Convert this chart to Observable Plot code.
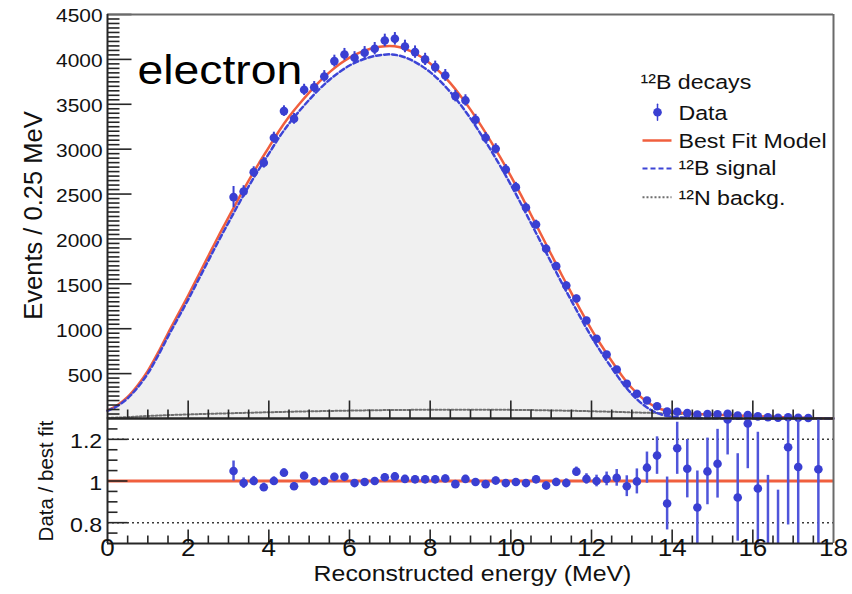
<!DOCTYPE html>
<html><head><meta charset="utf-8">
<script src="https://cdn.jsdelivr.net/npm/d3@7"></script>
<script src="https://cdn.jsdelivr.net/npm/@observablehq/plot@0.6"></script>
<style>
html,body{margin:0;padding:0;background:#fff;}
#chart{position:relative;width:852px;height:594px;overflow:hidden;font-family:"Liberation Sans",Arial,sans-serif;}
#chart svg{position:absolute;left:0;}
</style></head><body><div id="chart"></div>
<script>
// ---- data ----
const binCenters = [3.125,3.375,3.625,3.875,4.125,4.375,4.625,4.875,5.125,5.375,5.625,5.875,6.125,6.375,6.625,6.875,7.125,7.375,7.625,7.875,8.125,8.375,8.625,8.875,9.125,9.375,9.625,9.875,10.125,10.375,10.625,10.875,11.125,11.375,11.625,11.875,12.125,12.375,12.625,12.875,13.125,13.375,13.625,13.875,14.125,14.375,14.625,14.875,15.125,15.375,15.625,15.875,16.125,16.375,16.625,16.875,17.125,17.375,17.625];
const dataEvents = [2466,2529,2744,2848,3127,3424,3338,3661,3690,3810,3981,4055,4018,4074,4119,4211,4229,4144,4081,4000,3914,3821,3591,3543,3327,3127,3004,2774,2577,2350,2161,1890,1697,1482,1337,1092,888,713,546,387,275,200,137,78,76,60,45,50,48,52,32,38,24,14,9,14,8,5,null];
const dataErrors = [118,64,60,59,62,59,60,62,63,65,66,67,68,69,69,70,70,70,69,68,67,66,64,63,61,59,57,55,53,50,48,45,42,40,37,34,30,27,24,21,17,14,12,10,9,8,7,7,7,7,6,6,5,4,3,4,3,2,null];
const ratioValues = [1.048,0.99,1.0,0.97,1.0,1.04,0.975,1.025,0.998,1.0,1.02,1.02,0.99,0.995,1.0,1.018,1.022,1.01,1.008,1.008,1.008,1.012,0.985,1.01,0.995,0.985,1.002,0.99,0.995,0.99,1.008,0.978,0.995,0.99,1.045,1.01,1.0,1.01,1.015,0.975,0.998,1.064,1.122,0.892,1.157,1.059,0.873,1.046,1.083,1.295,0.921,1.276,0.964,0.65,0.6,1.162,1.067,null,1.056];
const ratioErrors = [0.048,0.025,0.022,0.02,0.02,0.018,0.018,0.017,0.017,0.017,0.017,0.017,0.017,0.017,0.017,0.017,0.017,0.017,0.017,0.017,0.017,0.017,0.017,0.017,0.017,0.017,0.017,0.017,0.017,0.017,0.017,0.018,0.018,0.02,0.022,0.025,0.028,0.033,0.04,0.05,0.06,0.075,0.09,0.127,0.125,0.14,0.175,0.16,0.165,0.17,0.21,0.217,0.27,0.377,0.356,0.373,0.45,null,0.6];

const curveEnergy = [0,0.25,0.5,0.75,1,1.25,1.5,1.75,2,2.25,2.5,2.75,3,3.25,3.5,3.75,4,4.25,4.5,4.75,5,5.25,5.5,5.75,6,6.25,6.5,6.75,7,7.25,7.5,7.75,8,8.25,8.5,8.75,9,9.25,9.5,9.75,10,10.25,10.5,10.75,11,11.25,11.5,11.75,12,12.25,12.5,12.75,13,13.25,13.5,13.75,14,14.25,14.5,14.75,15,15.25,15.5,15.75,16,16.25,16.5,16.75,17,17.25,17.5,17.75,18];
const bestFit = [90,150,240,370,530,730,950,1160,1370,1590,1810,2030,2240,2450,2650,2840,3020,3200,3360,3500,3630,3750,3855,3945,4020,4075,4115,4140,4150,4135,4095,4035,3955,3855,3735,3595,3440,3270,3090,2900,2700,2490,2270,2050,1830,1610,1400,1190,990,810,640,480,340,230,150,100,75,62,53,48,44,40,36,31,27,23,19,15,11,7,4,2,0];
const signal12B = [85,140,225,348,502,697,912,1118,1325,1541,1758,1975,2182,2389,2586,2773,2950,3128,3285,3422,3550,3668,3771,3859,3932,3985,4024,4047,4056,4040,3999,3938,3858,3757,3637,3497,3342,3172,2993,2803,2604,2395,2176,1958,1740,1522,1314,1106,909,732,565,408,272,165,88,42,20,11,5,3,2,2,1,0,0,0,0,0,0,0,0,0,0];
const backg12N = [5,10,15,22,28,33,38,42,45,49,52,55,58,61,64,67,70,72,75,78,80,82,84,86,88,90,91,93,94,95,96,97,97,98,98,98,98,98,97,97,96,95,94,92,90,88,86,84,81,78,75,72,68,65,62,58,55,51,48,45,42,38,35,31,27,23,19,15,11,7,4,2,0];

const xDomain = [0, 18];
const yDomain = [0, 4500];
const ratioDomain = [0.7, 1.3];
const xTickLabels = [0,2,4,6,8,10,12,14,16,18];
const xMinorTicks = [0.5,1,1.5,2.5,3,3.5,4.5,5,5.5,6.5,7,7.5,8.5,9,9.5,10.5,11,11.5,12.5,13,13.5,14.5,15,15.5,16.5,17,17.5];
const xMajorTicks = [2,4,6,8,10,12,14,16];
const yTickLabels = [500,1000,1500,2000,2500,3000,3500,4000,4500];
const ratioTickLabels = [0.8, 1, 1.2];
const ratioMinorTicks = [0.75,0.85,0.9,0.95,1.05,1.1,1.15,1.25];
const ratioGridLines = [0.8, 1.2];
const ratioReference = [1];
const panelLabel = "electron";
const legendTitle = "¹²B decays";
const legendLabels = ["Data", "Best Fit Model", "¹²B signal", "¹²N backg."];
const xTitle = "Reconstructed energy (MeV)";
const yTitle = "Events / 0.25 MeV";
const ratioTitle = "Data / best fit";

// ---- styling ----
const C = {data:"#3a3fd2", bar:"#4f55da", fit:"#f05f3e", sig:"#3d45d6", bkg:"#6e6e6e", fill:"#f0f0f0", axis:"#262626", frame:"#6a6a6a", grid:"#3a3a3a", text:"#111"};
const FONT = "Liberation Sans, Arial, sans-serif";
const W = 852;
const lineShape = {draw(ctx, l){ ctx.moveTo(0,0); ctx.lineTo(0,-l); }};

const points = binCenters.map((e,i)=>({e, v:dataEvents[i], err:dataErrors[i], r:ratioValues[i], rerr:ratioErrors[i]}));
const curve = curveEnergy.map((e,i)=>({e, fit:bestFit[i], sig:signal12B[i], bkg:backg12N[i]}));
const upPts = points.filter(d=>d.v!=null);
const rPts = points.filter(d=>d.r!=null);

const tick = (data, opts) => Plot.vector(data, {anchor:"start", shape:lineShape, stroke:C.axis, strokeWidth:1.6, strokeLinecap:"butt", ...opts});
const topLeft = {x: () => xDomain[0], y: () => yDomain[1]};
const legendVec = {frameAnchor:"top-left"};
const legendText = (label, dy) => Plot.text([label], {text:d=>d, ...topLeft, dx:571, dy, textAnchor:"start", fontSize:20.5, fill:C.text});

const upper = Plot.plot({
  width: W, height: 419,
  marginLeft: 107, marginRight: 19, marginTop: 14, marginBottom: 1,
  x: {domain: xDomain, axis: null},
  y: {domain: yDomain, axis: null},
  style: {background:"transparent", overflow:"visible", fontFamily: FONT},
  marks: [
    Plot.areaY(curve, {x:"e", y:"sig", fill:C.fill, curve:"monotone-x"}),
    Plot.line(curve, {x:"e", y:"bkg", stroke:C.bkg, strokeWidth:2, strokeDasharray:"2,2", curve:"monotone-x"}),
    Plot.line(curve, {x:"e", y:"fit", stroke:C.fit, strokeWidth:2.5, curve:"monotone-x"}),
    Plot.line(curve, {x:"e", y:"sig", stroke:C.sig, strokeWidth:2.5, strokeDasharray:"5,3", curve:"monotone-x"}),
    tick(yTickLabels, {y:d=>d, frameAnchor:"left", rotate:90, length:24}),
    tick(d3.range(50, 4500, 50).filter(v=>v%500!==0), {y:d=>d, frameAnchor:"left", rotate:90, length:12}),
    tick(xMajorTicks, {x:d=>d, frameAnchor:"bottom", rotate:0, length:18}),
    tick(xMinorTicks, {x:d=>d, frameAnchor:"bottom", rotate:0, length:9}),
    Plot.ruleX(upPts, {x:"e", y1:d=>d.v-d.err, y2:d=>d.v+d.err, stroke:C.data, strokeWidth:2, clip:true}),
    Plot.dot(upPts, {x:"e", y:"v", r:4.3, fill:C.data, stroke:"none"}),
    Plot.ruleY([yDomain[1]], {stroke:C.frame, strokeWidth:2}),
    Plot.ruleX([xDomain[1]], {stroke:C.frame, strokeWidth:2}),
    Plot.ruleX([xDomain[0]], {stroke:C.axis, strokeWidth:2}),
    Plot.ruleY([yDomain[0]], {stroke:C.axis, strokeWidth:2}),
    Plot.text(yTickLabels, {x:() => xDomain[0], y:d=>d, text:d=>String(d), dx:-5, dy:2, textAnchor:"end", fontSize:18.5, fill:C.text}),
    Plot.text([yTitle], {text:d=>d, x:() => xDomain[0], y:() => (yDomain[0]+yDomain[1])/2, dx:-74, dy:-1, rotate:-90, textAnchor:"middle", fontSize:25.5, fill:C.text}),
    Plot.text([panelLabel], {text:d=>d, ...topLeft, dx:30, dy:55.9, textAnchor:"start", fontSize:41, fill:"#000"}),
    Plot.text([legendTitle], {text:d=>d, ...topLeft, dx:533, dy:68.4, textAnchor:"start", fontSize:20.5, fill:C.text}),
    Plot.vector([0], {...legendVec, dx:550, dy:97.7, rotate:0, length:16, anchor:"middle", shape:lineShape, stroke:C.data, strokeWidth:1.5}),
    Plot.dot([0], {...legendVec, dx:550, dy:97.7, r:4.3, fill:C.data}),
    Plot.vector([0], {...legendVec, dx:535, dy:126, rotate:90, length:29, anchor:"start", shape:lineShape, stroke:C.fit, strokeWidth:2.5, strokeLinecap:"butt"}),
    Plot.vector([0], {...legendVec, dx:535, dy:154, rotate:90, length:29, anchor:"start", shape:lineShape, stroke:C.sig, strokeWidth:2.2, strokeDasharray:"5,3", strokeLinecap:"butt"}),
    Plot.vector([0], {...legendVec, dx:535, dy:182.7, rotate:90, length:29, anchor:"start", shape:lineShape, stroke:C.bkg, strokeWidth:2, strokeDasharray:"2,2", strokeLinecap:"butt"}),
    legendText(legendLabels[0], 99.4),
    legendText(legendLabels[1], 127.4),
    legendText(legendLabels[2], 154.4),
    legendText(legendLabels[3], 184.4)
  ]
});

const lower = Plot.plot({
  width: W, height: 177,
  marginLeft: 107, marginRight: 19, marginTop: 1, marginBottom: 51,
  x: {domain: xDomain, axis: null},
  y: {domain: ratioDomain, axis: null},
  style: {background:"transparent", overflow:"visible", fontFamily: FONT},
  marks: [
    Plot.ruleY(ratioGridLines, {stroke:C.grid, strokeWidth:1.5, strokeDasharray:"2,3"}),
    Plot.ruleY(ratioReference, {stroke:C.fit, strokeWidth:3}),
    tick(ratioTickLabels, {y:d=>d, frameAnchor:"left", rotate:90, length:20}),
    tick(ratioMinorTicks, {y:d=>d, frameAnchor:"left", rotate:90, length:10}),
    tick(xMajorTicks, {x:d=>d, frameAnchor:"bottom", rotate:0, length:14}),
    tick(xMinorTicks, {x:d=>d, frameAnchor:"bottom", rotate:0, length:8}),
    Plot.ruleX(rPts, {x:"e", y1:d=>d.r-d.rerr, y2:d=>d.r+d.rerr, stroke:C.bar, strokeWidth:2.5, clip:true}),
    Plot.dot(rPts, {x:"e", y:"r", r:4.3, fill:C.data, stroke:"none", clip:true}),
    Plot.ruleX([xDomain[1]], {stroke:C.frame, strokeWidth:2}),
    Plot.ruleX([xDomain[0]], {stroke:C.axis, strokeWidth:2}),
    Plot.ruleY([ratioDomain[0]], {stroke:C.axis, strokeWidth:2}),
    Plot.ruleY([ratioDomain[1]], {stroke:C.axis, strokeWidth:2}),
    Plot.text(ratioTickLabels, {x:() => xDomain[0], y:d=>d, text:d=>String(d), dx:-5.3, dy:2.3, textAnchor:"end", fontSize:20.5, fill:C.text}),
    Plot.text(xTickLabels, {x:d=>d, text:d=>String(d), frameAnchor:"bottom", dy:12, textAnchor:"middle", fontSize:23, fill:C.text}),
    Plot.text([xTitle], {text:d=>d, frameAnchor:"bottom", dx:2, dy:37, textAnchor:"middle", fontSize:22, fill:C.text}),
    Plot.text([ratioTitle], {text:d=>d, x:() => xDomain[0], y:() => (ratioDomain[0]+ratioDomain[1])/2, dx:-61, rotate:-90, textAnchor:"middle", fontSize:20.5, fill:C.text})
  ]
});

upper.style.top = "0px";
lower.style.top = "417px";
const chart = document.getElementById("chart");
chart.appendChild(upper);
chart.appendChild(lower);

// the reference's lettering is slightly wider than tall: widen horizontal texts with textLength
function widen(svg, s) {
  svg.querySelectorAll("text").forEach(t => {
    const tr = t.getAttribute("transform") || "";
    if (tr.includes("rotate")) return;
    const len = t.getComputedTextLength();
    if (len > 0) {
      t.setAttribute("textLength", (len * s).toFixed(2));
      t.setAttribute("lengthAdjust", "spacingAndGlyphs");
    }
  });
}
widen(upper, 1.13);
widen(lower, 1.13);
</script>
</body></html>
